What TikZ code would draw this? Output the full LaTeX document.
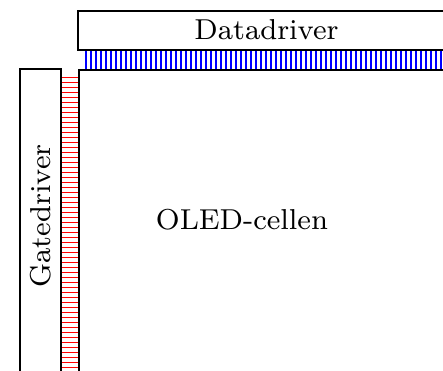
\documentclass[tikz,border=0pt]{standalone}
\begin{document}
\begin{tikzpicture}[x=1pt,y=-1pt]
\tikzset{
  box/.style={draw=black, line width=1.7pt, fill=none},
  lbl/.style={inner sep=0pt},
  dline/.style={draw=blue, line width=1.4pt},
  gline/.style={draw=red, line width=0.9pt}
}
\newcommand{\biglbl}[1]{\scalebox{3.6}{\fontsize{8}{10}\selectfont #1}}
\useasboundingbox (0,0) rectangle (443,370);
\clip (0,0) rectangle (443,370);
% connector strips
\foreach \x in {86,91,...,443} \draw[dline] (\x,50) -- (\x,70);
\foreach \y in {77,82,...,372} \draw[gline] (61,\y) -- (79,\y);
% boxes
\coordinate (ddnw) at (78,11);
\coordinate (ddse) at (470,50);
\coordinate (gdnw) at (20,69);
\coordinate (gdse) at (61,390);
\coordinate (olnw) at (79,70);
\coordinate (olse) at (470,390);
\draw[box] (ddnw) rectangle (ddse);
\draw[box] (gdnw) rectangle (gdse);
\draw[box] (olnw) rectangle (olse);
% labels
\node[lbl] (dd) at (266.5,30) {\biglbl{Datadriver}};
\node[lbl, rotate=90] (gd) at (40.5,216) {\biglbl{Gatedriver}};
\node[lbl] (ol) at (242,220) {\biglbl{OLED-cellen}};
\end{tikzpicture}
\end{document}
